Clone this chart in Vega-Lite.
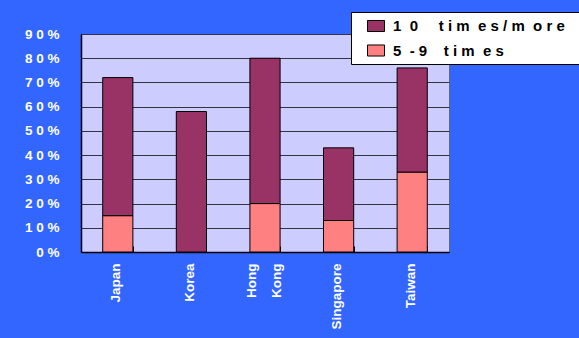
{
  "$schema": "https://vega.github.io/schema/vega-lite/v6.json",
  "width": 368,
  "height": 218,
  "autosize": {"type": "none"},
  "padding": {"left": 81, "top": 34, "right": 130, "bottom": 86},
  "background": "#3366FF",
  "config": {
    "font": "Liberation Sans",
    "view": {"fill": "#CCCCFF", "stroke": "#666666", "strokeWidth": 1}
  },
  "data": {
    "values": [
      {"country": "Japan", "series": "5-9 times", "pct": 15},
      {"country": "Japan", "series": "10 times/more", "pct": 57},
      {"country": "Korea", "series": "5-9 times", "pct": 0},
      {"country": "Korea", "series": "10 times/more", "pct": 58},
      {"country": "Hong Kong", "series": "5-9 times", "pct": 20},
      {"country": "Hong Kong", "series": "10 times/more", "pct": 60},
      {"country": "Singapore", "series": "5-9 times", "pct": 13},
      {"country": "Singapore", "series": "10 times/more", "pct": 30},
      {"country": "Taiwan", "series": "5-9 times", "pct": 33},
      {"country": "Taiwan", "series": "10 times/more", "pct": 43}
    ]
  },
  "mark": {"type": "bar", "stroke": "#000000", "strokeWidth": 1},
  "encoding": {
    "x": {
      "field": "country",
      "type": "nominal",
      "sort": ["Japan", "Korea", "Hong Kong", "Singapore", "Taiwan"],
      "scale": {"paddingInner": 0.59, "paddingOuter": 0.295},
      "axis": {
        "title": null,
        "labelAngle": -90,
        "labelAlign": "right",
        "labelBaseline": "middle",
        "labelColor": "#FFFFFF",
        "labelFont": "Liberation Sans",
        "labelFontSize": 13.5,
        "labelFontWeight": "bold",
        "labelLineHeight": 25,
        "labelPadding": 17,
        "labelOffset": {"condition": {"test": "datum.value == 'Hong Kong'", "value": -14}, "value": -2},
        "labelExpr": "datum.value == 'Hong Kong' ? ['Hong', 'Kong'] : datum.value",
        "domainColor": "#000000",
        "domainWidth": 1.5,
        "tickBand": "extent",
        "tickColor": "#000000",
        "tickSize": -6,
        "grid": false
      }
    },
    "y": {
      "field": "pct",
      "type": "quantitative",
      "stack": "zero",
      "scale": {"domain": [0, 90], "nice": false},
      "axis": {
        "title": null,
        "values": [0, 10, 20, 30, 40, 50, 60, 70, 80, 90],
        "labelExpr": "datum.value == 0 ? '0\u00a0%' : floor(datum.value / 10) + '\u00a00\u00a0%'",
        "labelColor": "#FFFFFF",
        "labelFont": "Liberation Sans",
        "labelFontSize": 13.5,
        "labelFontWeight": "bold",
        "labelPadding": 22,
        "domainColor": "#000000",
        "domainWidth": 1.5,
        "ticks": false,
        "tickSize": 0,
        "grid": true,
        "gridColor": "#333344",
        "gridWidth": 1,
        "gridOpacity": 1
      }
    },
    "color": {
      "field": "series",
      "type": "nominal",
      "scale": {
        "domain": ["10 times/more", "5-9 times"],
        "range": ["#993366", "#FF8080"]
      },
      "legend": {
        "title": "I",
        "titleOrient": "right",
        "titleColor": "#FFFFFF",
        "titleFontSize": 15,
        "titlePadding": 8,
        "orient": "none",
        "legendX": 270,
        "legendY": -22,
        "direction": "vertical",
        "fillColor": "#FFFFFF",
        "strokeColor": "#000000",
        "padding": 5,
        "rowPadding": 7.5,
        "symbolType": "M-1,-0.65L1,-0.65L1,0.65L-1,0.65Z",
        "symbolSize": 289,
        "symbolStrokeColor": "#000000",
        "symbolStrokeWidth": 1,
        "symbolOpacity": 1,
        "symbolOffset": 11,
        "labelOffset": 8,
        "labelFont": "Liberation Sans",
        "labelFontSize": 15,
        "labelFontWeight": "bold",
        "labelColor": "#000000",
        "labelLimit": 400,
        "labelExpr": "datum.value == '10 times/more' ? '1\u00a0\u00a00\u00a0\u00a0\u00a0\u00a0\u00a0t\u00a0i\u00a0m\u00a0\u00a0e\u00a0s\u00a0/\u00a0m\u00a0\u00a0o\u00a0r\u00a0e' : '5\u00a0\u00a0-\u00a09\u00a0\u00a0\u00a0\u00a0t\u00a0i\u00a0m\u00a0\u00a0e\u00a0s'"
      }
    },
    "order": {"field": "series", "sort": "descending"}
  }
}
